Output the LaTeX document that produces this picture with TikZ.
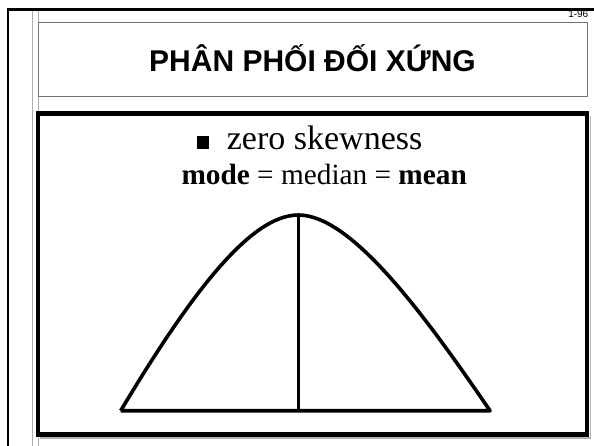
\documentclass[tikz,border=0pt]{standalone}
\usepackage{fontspec}
\setmainfont{Liberation Serif}
\newfontfamily\arialf{Liberation Sans}
\begin{document}
\begin{tikzpicture}[x=1pt,y=-1pt,
  frameline/.style={draw=black,line width=2.8pt},
  guide/.style={draw=black!32,line width=0.9pt},
  shadowline/.style={draw=black!30,line width=1.2pt},
  titlebox/.style={draw=black!55,line width=1pt},
  mainbox/.style={draw=black,line width=4.5pt},
  curveline/.style={draw=black,line width=3.6pt,line join=round}]
\useasboundingbox (0,0) rectangle (594,446);
\fill[white] (0,0) rectangle (594,446);
% guides
\draw[guide] (32,9) -- (32,446);
\draw[guide] (38,9) -- (38,446);
% outer frame
\draw[frameline] (8,446) -- (8,9.5) -- (594,9.5);
% title box
\draw[titlebox] (38,23) rectangle (587,97);
% main box with shadow
\draw[shadowline] (40,438) -- (590.5,438) -- (590.5,116);
\draw[mainbox] (38,113.7) rectangle (587,434.5);
% texts
\node[font=\arialf\fontsize{10}{11}\selectfont, anchor=base east, inner sep=0] (pg) at (588.5,17.5) {1-96};
\node[font=\arialf\bfseries\fontsize{30}{32}\selectfont, anchor=base, inner sep=0] (title) at (312.5,72) {PHÂN PHỐI ĐỐI XỨNG};
\fill (196.7,136) rectangle (209.3,148.7);
\node[font=\fontsize{34}{36}\selectfont, anchor=base west, inner sep=0] (zs) at (226.7,149.5) {zero skewness};
\node[font=\fontsize{29.3}{31}\selectfont, anchor=base, inner sep=0] (eq) at (324.2,185) {\textbf{mode} = median = \textbf{mean}};
% curve
\coordinate (L) at (120.7,410.7);
\coordinate (R) at (490,410.7);
\coordinate (P) at (298.3,215);
\coordinate (B) at (298.3,410.7);
\draw[curveline] (L) .. controls (190,295) and (250,215) .. (P)
  .. controls (350,215) and (420,308) .. (R) -- (L);
\draw[curveline] (P) -- (B);
\end{tikzpicture}
\end{document}
